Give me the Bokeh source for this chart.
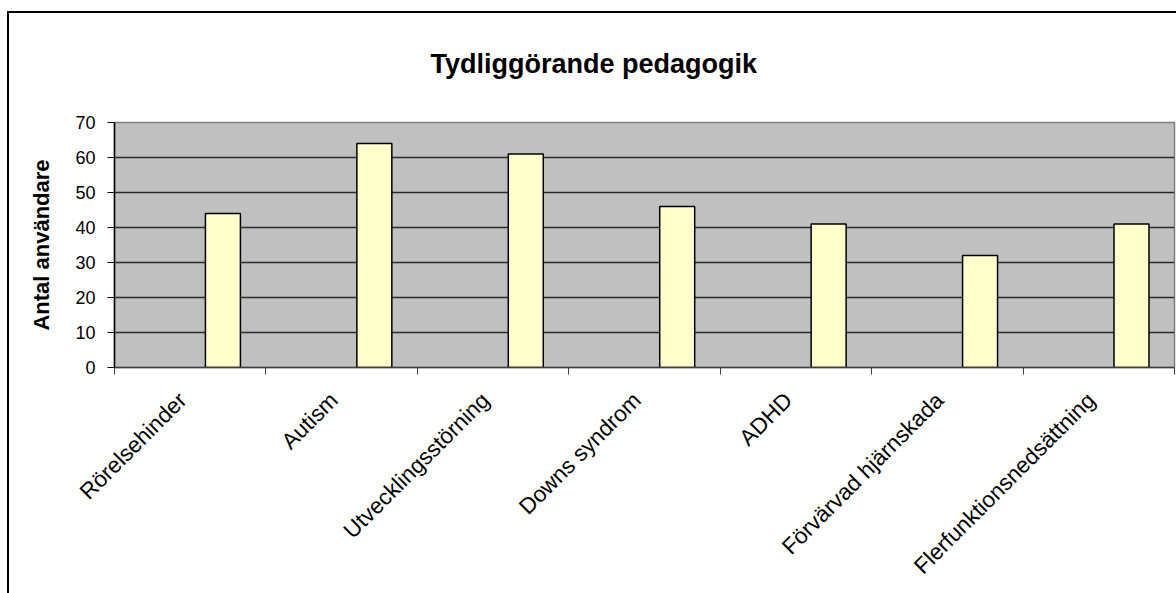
import math
from bokeh.plotting import figure
from bokeh.models import FixedTicker, Range1d
from bokeh.embed import file_html
from bokeh.resources import INLINE

categories = ["Rörelsehinder", "Autism", "Utvecklingsstörning", "Downs syndrom",
              "ADHD", "Förvärvad hjärnskada", "Flerfunktionsnedsättning"]
values = [44, 64, 61, 46, 41, 32, 41]
y_ticks = [0, 10, 20, 30, 40, 50, 60, 70]
title_text = "Tydliggörande pedagogik"
y_title = "Antal användare"

FONT = "Liberation Sans"
n = len(categories)
centers = [i + 0.5 for i in range(n)]
label_pos = [c - 0.05 for c in centers]
bar_offset = 0.216
bar_width = 0.231
bar_x = [c + bar_offset for c in centers]

p = figure(width=1176, height=593, output_backend="svg", toolbar_location=None,
           x_range=Range1d(0, n), y_range=Range1d(0, 70),
           min_border_left=114, min_border_right=2, min_border_top=122,
           min_border_bottom=226, title=title_text)

p.background_fill_color = "#C0C0C0"
p.border_fill_color = None
p.outline_line_color = "#808080"
p.outline_line_width = 1.5

# outer chart border (left and top edges of the Excel chart area)
p.styles = {
    "background-color": "white",
    "background-image": "linear-gradient(#000, #000), linear-gradient(#000, #000)",
    "background-position": "7px 11px, 7px 11px",
    "background-size": "2px 100%, 100% 2px",
    "background-repeat": "no-repeat, no-repeat",
}

p.vbar(x=bar_x, top=values, width=bar_width, bottom=0,
       fill_color="#FFFFCC", line_color="black", line_width=1.5)

# title
p.title.text_font = FONT
p.title.text_font_style = "bold"
p.title.text_font_size = "27px"
p.title.align = "left"
p.title.offset = 316
p.title.text_color = "black"
p.title.standoff = 88

# y axis
p.yaxis.ticker = FixedTicker(ticks=y_ticks)
p.yaxis.axis_label = y_title
p.yaxis.axis_label_text_font = FONT
p.yaxis.axis_label_text_font_style = "bold"
p.yaxis.axis_label_text_font_size = "22px"
p.yaxis.axis_label_text_color = "black"
p.yaxis.axis_label_standoff = 18
p.yaxis.major_label_text_font = FONT
p.yaxis.major_label_text_font_size = "18px"
p.yaxis.major_label_text_color = "black"
p.yaxis.major_label_standoff = 12
p.yaxis.axis_line_color = "black"
p.yaxis.axis_line_width = 1.5
p.yaxis.major_tick_line_color = "black"
p.yaxis.major_tick_out = 7
p.yaxis.major_tick_in = 0
p.yaxis.minor_tick_line_color = None

# x axis
p.xaxis.ticker = FixedTicker(ticks=label_pos, minor_ticks=list(range(n + 1)))
p.xaxis.major_label_overrides = {c: lab for c, lab in zip(label_pos, categories)}
p.xaxis.major_label_orientation = math.pi / 4
p.xaxis.major_label_text_font = FONT
p.xaxis.major_label_text_font_size = "22.5px"
p.xaxis.major_label_text_color = "black"
p.xaxis.major_label_standoff = 22
p.xaxis.major_tick_line_color = None
p.xaxis.minor_tick_line_color = "#404040"
p.xaxis.minor_tick_out = 7
p.xaxis.minor_tick_in = 0
p.xaxis.axis_line_color = "#404040"
p.xaxis.axis_line_width = 1.5

# grid
p.xgrid.grid_line_color = None
p.ygrid.ticker = FixedTicker(ticks=y_ticks)
p.ygrid.grid_line_color = "#2a2a2a"
p.ygrid.grid_line_width = 1.3

open("out.html", "w").write(file_html(p, INLINE))
